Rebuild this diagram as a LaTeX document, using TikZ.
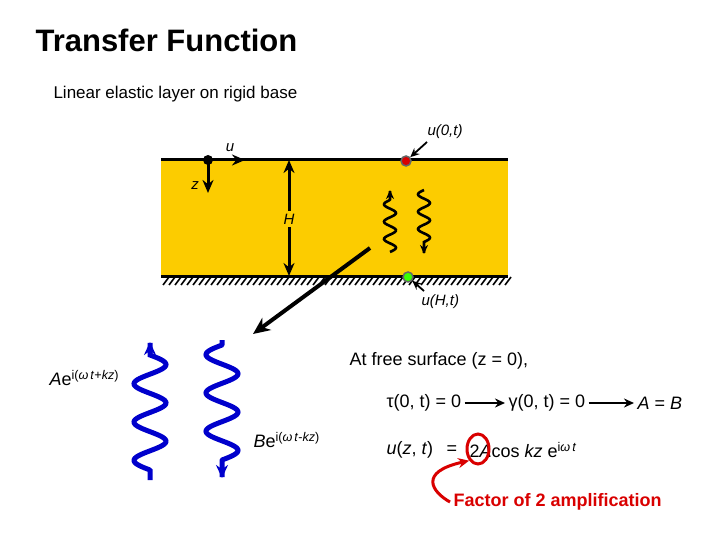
\documentclass[tikz,border=0pt]{standalone}
\usepackage{fontspec}
\setmainfont{Liberation Sans}
\usetikzlibrary{arrows.meta,shapes.geometric}
\begin{document}
\begin{tikzpicture}[x=1pt,y=-1pt,
  lbl/.style={font=\fontsize{15}{17}\selectfont\itshape},
  blk/.style={line width=3pt,-{Stealth[length=13pt,width=11pt]}},
  wav/.style={blue!80!black,line width=5pt,-{Stealth[length=13pt,width=12pt]}},
  swav/.style={black,line width=2.6pt,-{Stealth[length=9pt,width=8pt]}},
  eq/.style={font=\fontsize{18}{21}\selectfont,anchor=west}]
\useasboundingbox (0,0) rectangle (720,540);
\node[anchor=west,font=\fontsize{31}{36}\selectfont\bfseries] (title) at (32,40) {Transfer Function};
\node[anchor=west,font=\fontsize{17}{20}\selectfont] (sub) at (50,94) {Linear elastic layer on rigid base};
% layer
\fill[fill={rgb,255:red,252;green,204;blue,0}] (161,160) rectangle (508,276);
\draw[line width=3pt] (161,160) -- (508,160);
\draw[line width=3pt] (161,276) -- (508,276);
\foreach \i in {0,...,57} \draw[line width=1.6pt] (163+6*\i,285) -- (169+6*\i,277);
% origin
\coordinate (o) at (208,160);
\coordinate (ue) at (245,160);
\coordinate (ze) at (208,193);
\draw[blk] (o) -- (ue);
\draw[blk] (o) -- (ze);
\fill (o) circle (5);
\node[lbl] (ulab) at (230,148) {u};
\node[lbl] (zlab) at (195,186) {z};
% H
\coordinate (ht) at (289,160);
\coordinate (hb) at (289,276);
\node[lbl,fill={rgb,255:red,252;green,204;blue,0},inner sep=3pt] (H) at (289,219) {H};
\draw[blk] (H) -- (ht);
\draw[blk] (H) -- (hb);
% dots
\node[circle,fill=red!85!black,draw=black!60,line width=1.5pt,inner sep=0pt,minimum size=10pt] (rd) at (406,161) {};
\node[circle,fill=green!70!lime,draw=black!60,line width=1.5pt,inner sep=0pt,minimum size=10pt] (gd) at (408,277) {};
\node[lbl,anchor=west] (u0) at (424,132) {u(0,t)};
\node[lbl,anchor=west] (uh) at (418,302) {u(H,t)};
\coordinate (u0s) at (427,142);
\coordinate (uhs) at (424,291);
\draw[line width=1.8pt,-{Stealth[length=9pt,width=8pt]}] (u0s) -- (rd);
\draw[line width=1.8pt,-{Stealth[length=9pt,width=8pt]}] (uhs) -- (gd);
% small waves
\draw[swav] plot[domain=252:190,samples=60,smooth] ({390+6*sin(max(0,min(1,(252-\x)/52))*3*360)},\x);
\draw[swav] plot[domain=190:254,samples=60,smooth] ({424-6*sin(max(0,min(1,(\x-190)/52))*3*360)},\x);
% big arrow
\coordinate (bs) at (370,248);
\coordinate (be) at (253,334);
\draw[line width=4pt,-{Stealth[length=17pt,width=15pt]}] (bs) -- (be);
% big waves
\draw[wav] plot[domain=480:342,samples=160,smooth] ({150-16*sin(max(0,min(1,(470-\x)/115))*3*360)},\x);
\draw[wav] plot[domain=340:478,samples=160,smooth] ({222-16*sin(max(0,min(1,(\x-345)/115))*3*360)},\x);
\node[font=\fontsize{18}{21}\selectfont,anchor=west] (A) at (46,378) {\textit{A}e\textsuperscript{i(\textit{ω}\,\textit{t}+\textit{kz})}};
\node[font=\fontsize{18}{21}\selectfont,anchor=west] (B) at (250,440) {\textit{B}e\textsuperscript{i(\textit{ω}\,\textit{t}-\textit{kz})}};
% equations
\node[eq] (fs) at (346,361) {At free surface (z = 0),};
\node[eq] (t1) at (383,403) {τ(0, t) = 0};
\node[eq] (g1) at (505,403) {γ(0, t) = 0};
\node[eq] (ab) at (634,403) {\textit{A} = \textit{B}};
\draw[line width=2.2pt,-{Stealth[length=10pt,width=9pt]}] (t1.east) -- (g1.west);
\draw[line width=2.2pt,-{Stealth[length=10pt,width=9pt]}] (g1.east) -- (ab.west);
\node[eq] (ue2) at (383,450) {\textit{u}(\textit{z}, \textit{t})};
\node[eq] (eqs) at (443,450) {=};
\node[eq] (ue3) at (466,450) {2\textit{A}cos \textit{kz} e\textsuperscript{i\textit{ω}\,\textit{t}}};
\node[draw=red!85!black,line width=3pt,ellipse,minimum width=22pt,minimum height=30pt,inner sep=0pt] (circ) at (478,449) {};
\node[font=\fontsize{18}{21}\selectfont\bfseries,text=red!85!black,anchor=west] (fac) at (450,502) {Factor of 2 amplification};
\draw[red!85!black,line width=3pt,-{Stealth[length=11pt,width=10pt]}] (fac.west) .. controls (432,492) and (418,472) .. (circ.south west);
\end{tikzpicture}
\end{document}
